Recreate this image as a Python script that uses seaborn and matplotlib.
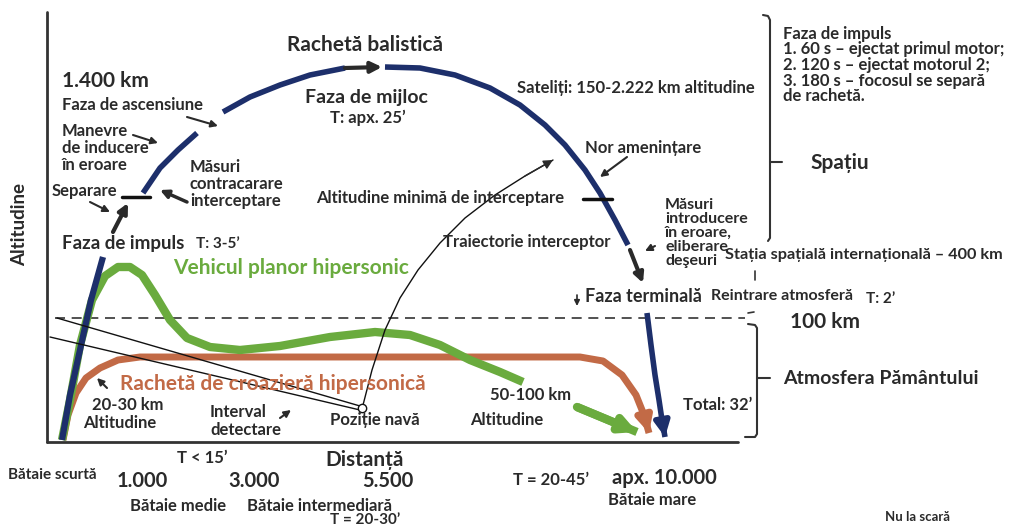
import matplotlib
matplotlib.use('Agg')
import matplotlib.pyplot as plt
import seaborn as sns

sns.set_style('white')
plt.rcParams['font.family'] = ['Lato', 'DejaVu Sans']
plt.rcParams['font.weight'] = 'bold'

NAVY = '#1d2f6b'
GREEN = '#6aab3e'
BROWN = '#c26a46'
INK = '#2a2a2a'

# traiectorie balistica (segmente), coordonate schema: x = distanta, y = altitudine (in jos)
impuls_x = [62, 70, 80, 91, 103]
impuls_y = [440, 395, 350, 300, 257]
urcare_x = [143, 160, 178, 197]
urcare_y = [193, 168, 150, 133]
ascensiune_x = [223, 250, 280, 310, 345]
ascensiune_y = [112, 97, 85, 75, 68]
mijloc_x = [385, 420, 455, 490, 520, 545, 565, 585, 600, 615, 628]
mijloc_y = [67, 68, 75, 88, 105, 125, 145, 170, 193, 220, 245]
terminal_x = [647, 651, 655, 659, 662, 665]
terminal_y = [313, 345, 375, 400, 420, 437]

# vehicul planor hipersonic
planor_x = [62, 70, 80, 92, 105, 118, 130, 142, 155, 170, 187, 210, 240, 280,
            330, 375, 410, 440, 470, 500, 523]
planor_y = [440, 400, 345, 300, 276, 267, 267, 275, 295, 320, 338, 347, 350, 346,
            337, 332, 335, 345, 360, 372, 382]
planor_final_x = [577, 637]
planor_final_y = [407, 432]

# racheta de croaziera hipersonica
croaziera_x = [63, 68, 76, 86, 100, 118, 140, 580, 603, 622, 636, 644, 649]
croaziera_y = [440, 415, 393, 378, 368, 360, 357, 357, 361, 375, 395, 415, 433]

# interceptor si linii de detectie
interceptor_x = [362, 372, 385, 400, 418, 440, 465, 495, 525, 553]
interceptor_y = [409, 370, 330, 298, 270, 243, 218, 195, 176, 160]
detectie1_x = [57, 360]
detectie1_y = [318, 406]
detectie2_x = [50, 360]
detectie2_y = [337, 410]
nava = (362, 408)
linie_100km_y = 318

fig = plt.figure(figsize=(10.31, 5.28), dpi=100)
ax = fig.add_axes([0, 0, 1, 1])
ax.set_xlim(0, 1031)
ax.set_ylim(528, 0)
ax.axis('off')


def curve(xs, ys, color, lw, head=False):
    sns.lineplot(x=xs, y=ys, sort=False, estimator=None, color=color, lw=lw,
                 ax=ax, solid_capstyle='butt')
    if head:
        ax.annotate('', xy=(xs[-1], ys[-1]), xytext=(xs[-2], ys[-2]),
                    arrowprops=dict(arrowstyle='-|>', color=color, lw=lw,
                                    mutation_scale=22, shrinkA=0, shrinkB=0))


def arrow(x0, y0, x1, y1, lw=2.0, ms=12, color=INK):
    ax.annotate('', xy=(x1, y1), xytext=(x0, y0),
                arrowprops=dict(arrowstyle='-|>', color=color, lw=lw,
                                mutation_scale=ms, shrinkA=0, shrinkB=0))


def txt(x, y, s, size=10, color=INK, **kw):
    ax.text(x, y, s, fontsize=size, color=color, va='center', ha=kw.pop('ha', 'left'),
            linespacing=kw.pop('ls', 1.1), **kw)


# axe
ax.plot([47, 47], [12, 442], color='#333333', lw=2)
ax.plot([47, 738], [442, 442], color='#333333', lw=2)
ax.plot([55, 745], [linie_100km_y, linie_100km_y], color='#333333', lw=1.2, ls=(0, (6, 4)))

# texte sub linii
txt(120, 384, 'Rachetă de croazieră hipersonică', 15, color=BROWN)

# curbe
curve(croaziera_x, croaziera_y, BROWN, 5, head=True)
curve(planor_x, planor_y, GREEN, 6)
curve(planor_final_x, planor_final_y, GREEN, 6, head=True)
curve(impuls_x, impuls_y, NAVY, 4.5)
curve(urcare_x, urcare_y, NAVY, 4)
curve(ascensiune_x, ascensiune_y, NAVY, 4)
curve(mijloc_x, mijloc_y, NAVY, 4)
curve(terminal_x, terminal_y, NAVY, 4, head=True)

sns.lineplot(x=interceptor_x, y=interceptor_y, sort=False, estimator=None, color='#111111', lw=1, ax=ax)
arrow(interceptor_x[-2], interceptor_y[-2], interceptor_x[-1], interceptor_y[-1], lw=1, ms=14)
sns.lineplot(x=detectie1_x, y=detectie1_y, sort=False, estimator=None, color='#111111', lw=1, ax=ax)
sns.lineplot(x=detectie2_x, y=detectie2_y, sort=False, estimator=None, color='#111111', lw=1, ax=ax)
ax.plot(*nava, marker='o', ms=6, mfc='white', mec='#111111', mew=1)

# sageti negre pe traiectorie
arrow(345, 68, 382, 67, lw=3, ms=16)
arrow(113, 232, 128, 203, lw=3, ms=14)
arrow(630, 250, 643, 283, lw=3, ms=14)
ax.plot([122, 150], [197, 197], color='#111111', lw=2.5)
ax.plot([583, 612], [199, 199], color='#111111', lw=2.5)

# sageti mici
arrow(187, 117, 218, 126, lw=1.5, ms=10)
arrow(133, 135, 158, 143, lw=1.5, ms=10)
arrow(90, 202, 110, 212, lw=1.5, ms=10)
arrow(187, 202, 160, 190, lw=2.5, ms=12)
arrow(627, 157, 600, 177, lw=1.5, ms=10)
arrow(655, 246, 645, 251, lw=1.5, ms=10)
arrow(107, 388, 97, 378, lw=1.5, ms=10)
arrow(280, 418, 291, 410, lw=1.5, ms=10)
arrow(577, 295, 577, 306, lw=1.2, ms=8)

# acolade dreapta
ax.plot([763, 768, 770, 770, 768], [15, 16, 20, 238, 241], color='#333333', lw=1.5)
ax.plot([770, 782], [162, 162], color='#333333', lw=1.5)
ax.plot([748, 755, 757, 757, 755, 745], [324, 325, 328, 434, 437, 437], color='#333333', lw=1.5)
ax.plot([757, 770], [378, 378], color='#333333', lw=1.5)
ax.plot([748, 754], [313, 312], color='#333333', lw=1.2)
ax.plot([755, 755], [271, 280], color='#333333', lw=1.2)

# texte
ax.text(20, 225, 'Altitudine', rotation=90, fontsize=13.5, color=INK, ha='center', va='center')
txt(365, 45, 'Rachetă balistică', 15, ha='center')
txt(62, 81, '1.400 km', 15)
txt(62, 105, 'Faza de ascensiune', 12)
txt(62, 148, 'Manevre\nde inducere\nîn eroare', 12)
txt(190, 184, 'Măsuri\ncontracarare\ninterceptare', 12)
txt(52, 191, 'Separare', 12)
txt(62, 243, 'Faza de impuls', 13.5)
txt(196, 244, "T: 3-5’", 11)
txt(173, 268, 'Vehicul planor hipersonic', 15, color=GREEN)
txt(92, 405, '20-30 km', 12)
txt(83, 423, 'Altitudine', 12)
txt(210, 421, 'Interval\ndetectare', 12)
txt(330, 420, 'Poziție navă', 12)
txt(490, 395, '50-100 km', 12)
txt(470, 420, 'Altitudine', 12)
txt(177, 458, "T < 15’", 12)
txt(365, 460, 'Distanță', 15, ha='center')
txt(8, 475, 'Bătaie scurtă', 11)
txt(117, 481, '1.000', 14.5)
txt(228, 481, '3.000', 14.5)
txt(362, 481, '5.500', 14.5)
txt(130, 506, 'Bătaie medie', 12)
txt(247, 506, 'Bătaie intermediară', 12)
txt(365, 520, "T = 20-30’", 11, ha='center')
txt(513, 480, "T = 20-45’", 12)
txt(612, 478, 'apx. 10.000', 14.5)
txt(608, 500, 'Bătaie mare', 12)
txt(885, 517, 'Nu la scară', 9.5)
txt(683, 405, "Total: 32’", 12)
txt(585, 296, 'Faza terminală', 13)
txt(711, 296, 'Reintrare atmosferă', 11.5)
txt(866, 299, "T: 2’", 11)
txt(790, 322, '100 km', 15)
txt(783, 378, 'Atmosfera Pământului', 14)
txt(725, 255, 'Stația spațială internațională – 400 km', 11.7)
txt(665, 233, 'Măsuri\nintroducere\nîn eroare,\neliberare\ndeşeuri', 11.5, ls=1.02)
txt(316, 198, 'Altitudine minimă de interceptare', 12)
txt(443, 242, 'Traiectorie interceptor', 12)
txt(585, 148, 'Nor amenințare', 12)
txt(305, 98, 'Faza de mijloc', 14)
txt(330, 118, "T: apx. 25’", 12)
txt(517, 88, 'Sateliți: 150-2.222 km altitudine', 12)
txt(783, 65, 'Faza de impuls\n1. 60 s – ejectat primul motor;\n2. 120 s – ejectat motorul 2;\n'
        '3. 180 s – focosul se separă\nde rachetă.', 12, ls=0.98)
txt(810, 163, 'Spațiu', 15)

fig.savefig('out.png', dpi=100)
